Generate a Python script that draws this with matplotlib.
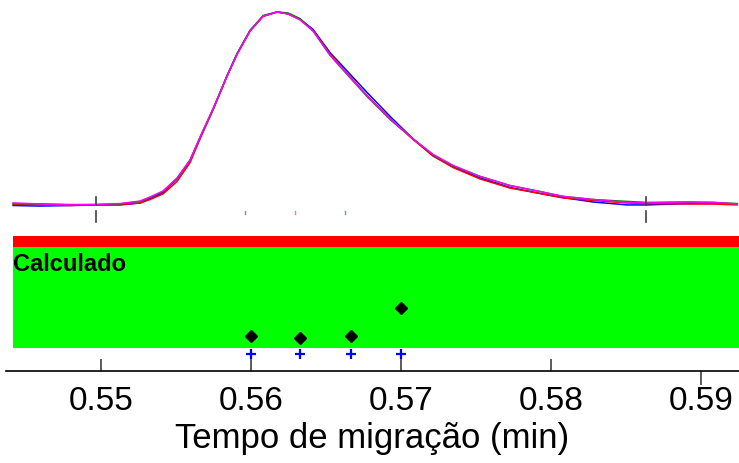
import matplotlib
matplotlib.use("Agg")
import matplotlib.pyplot as plt
import numpy as np

# Migration time axis (min)
t = [0.54414, 0.54594, 0.54794, 0.54961, 0.55127, 0.55261, 0.55327, 0.55414,
     0.55507, 0.55594, 0.55661, 0.55747, 0.55841, 0.55908, 0.55994, 0.56081,
     0.56174, 0.56247, 0.56327, 0.56414, 0.56527, 0.56641, 0.56774, 0.56928,
     0.57081, 0.57214, 0.57348, 0.57528, 0.57728, 0.57928, 0.58081, 0.58281,
     0.58508, 0.58641, 0.58908, 0.59081, 0.59241]

# Normalised electropherogram signals of the four runs
sig_blue = [0.000, -0.003, 0.000, 0.003, 0.003, 0.013, 0.036, 0.067,
            0.137, 0.232, 0.350, 0.497, 0.672, 0.786, 0.905, 0.979,
            1.000, 0.991, 0.963, 0.910, 0.790, 0.695, 0.584, 0.460,
            0.344, 0.256, 0.199, 0.142, 0.093, 0.062, 0.041, 0.018,
            0.003, 0.003, 0.010, 0.010, 0.008]
sig_red = [0.005, 0.003, 0.000, 0.003, 0.005, 0.013, 0.031, 0.060,
           0.124, 0.222, 0.346, 0.494, 0.669, 0.783, 0.902, 0.977,
           1.000, 0.990, 0.961, 0.905, 0.781, 0.683, 0.568, 0.447,
           0.341, 0.256, 0.196, 0.137, 0.090, 0.062, 0.039, 0.026,
           0.013, 0.010, 0.008, 0.008, 0.003]
sig_green = [0.010, 0.008, 0.005, 0.005, 0.008, 0.021, 0.041, 0.072,
             0.140, 0.235, 0.354, 0.499, 0.672, 0.786, 0.905, 0.982,
             1.000, 0.995, 0.966, 0.902, 0.776, 0.677, 0.563, 0.444,
             0.344, 0.261, 0.204, 0.150, 0.103, 0.072, 0.047, 0.031,
             0.021, 0.016, 0.018, 0.016, 0.010]
sig_magenta = [0.013, 0.008, 0.003, 0.005, 0.010, 0.023, 0.044, 0.075,
               0.142, 0.235, 0.354, 0.499, 0.669, 0.783, 0.902, 0.979,
               1.000, 0.990, 0.959, 0.902, 0.778, 0.680, 0.566, 0.447,
               0.344, 0.264, 0.207, 0.150, 0.103, 0.072, 0.047, 0.031,
               0.016, 0.013, 0.018, 0.016, 0.008]

# Integration limits and detected peak apex times of three runs
limits = [0.54964, 0.58633]
apex_t = [0.55961, 0.56294, 0.56630]
apex_colors = ["#8080ff", "#ff8080", "#60b060"]

# "Calculado" panel: calculated migration times and their values
calc_t = [0.5600, 0.5633, 0.5667, 0.5700]
calc_v = [0.118, 0.105, 0.124, 0.401]
calc_base = -0.056

xticks = [0.55, 0.56, 0.57, 0.58]
xticks_out = [0.59]
xlim = (0.543667, 0.592533)
data_start = 0.54412

W, H = 739, 464
fig = plt.figure(figsize=(W / 100, H / 100), dpi=100)

def px_box(left, top, right, bottom):
    return [left / W, 1 - bottom / H, (right - left) / W, (bottom - top) / H]

font = ["Liberation Sans", "DejaVu Sans"]

# Axis host carrying only the time axis
ax = fig.add_axes(px_box(6, 0, 739, 372))
ax.set_xlim(*xlim)
ax.set_ylim(0, 1)
for s in ("top", "left", "right"):
    ax.spines[s].set_visible(False)
ax.spines["bottom"].set_linewidth(1.2)
ax.set_yticks([])
ax.set_xticks(xticks)
ax.set_xticklabels([f"{v:.2f}" for v in xticks], family=font, fontsize=24)
ax.set_xticks(xticks_out, minor=True)
ax.set_xticklabels([f"{v:.2f}" for v in xticks_out], minor=True, family=font, fontsize=24)
ax.tick_params(which="major", direction="in", length=9, width=1.2, color="#404040", pad=10)
ax.tick_params(which="minor", direction="out", length=10, width=1.2, color="#404040", pad=0)
ax.set_xlabel("Tempo de migração (min)", family=font, fontsize=25, labelpad=4)
ax.patch.set_alpha(0)

# Electropherograms
axc = fig.add_axes(px_box(6, 0, 739, 230))
axc.set_xlim(*xlim)
axc.set_ylim((206.5 - 230) / 193.5, 206.5 / 193.5)
axc.axis("off")
for sig, c in [(sig_blue, "#0000ff"), (sig_red, "#ff0000"),
               (sig_green, "#008000"), (sig_magenta, "#ff00ff")]:
    axc.plot(t, sig, color=c, lw=1.1)
for x in limits:
    axc.plot([x, x], [0.044, 0.003], color="#404040", lw=1.2)
    axc.plot([x, x], [-0.028, -0.085], color="#404040", lw=1.2)
for x, c in zip(apex_t, apex_colors):
    axc.plot([x, x], [-0.028, -0.044], color=c, lw=1.0)

# Calculated panel
axp = fig.add_axes(px_box(6, 236.7, 739, 372))
axp.set_xlim(*xlim)
axp.set_ylim(-0.224, 1.1115)
axp.axis("off")
frac0 = (data_start - xlim[0]) / (xlim[1] - xlim[0])
axp.axhspan(0, 1, xmin=frac0, xmax=1, color="#00ff00", lw=0)
axp.axhspan(1, 1.1115, xmin=frac0, xmax=1, color="#ff0000", lw=0)
axp.plot(calc_t, calc_v, linestyle="none", marker="D", ms=6, color="black")
axp.plot(calc_t, [calc_base] * len(calc_t), linestyle="none", marker="+",
         ms=7, mew=1.6, color="#0000ff", clip_on=False)
axp.text(data_start + 0.00002, 0.77, "Calculado", family=font, fontsize=17,
         fontweight="bold", va="baseline", ha="left")

fig.savefig("out.png", dpi=100)
